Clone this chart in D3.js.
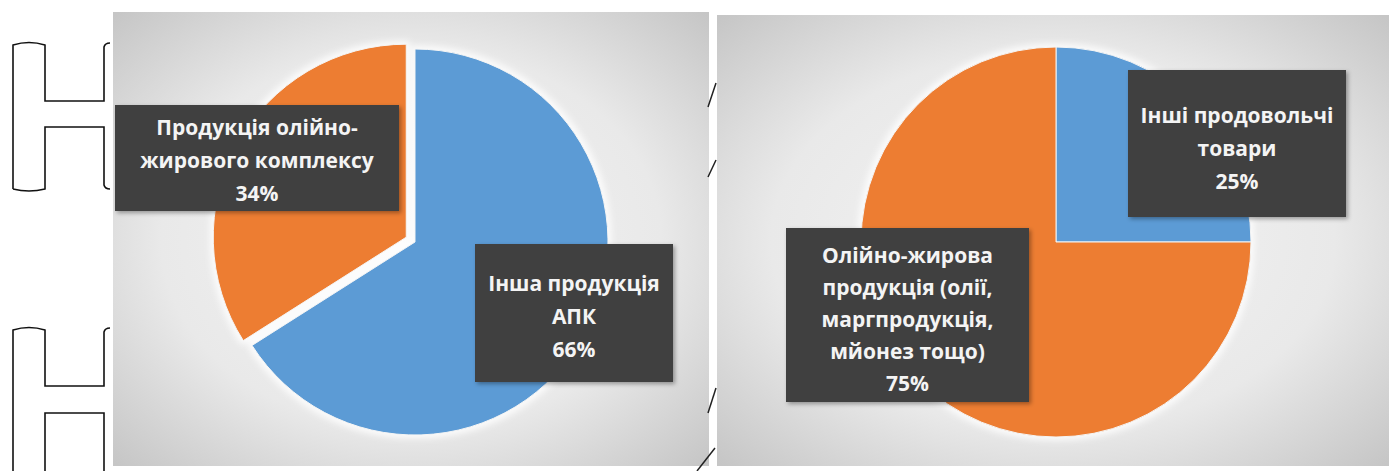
<!DOCTYPE html>
<html>
<head>
<meta charset="utf-8">
<script src="https://cdn.jsdelivr.net/npm/d3@7"></script>
<style>
  body { margin: 0; background: #fff; }
  svg { display: block; }
</style>
</head>
<body>
<div id="chart"></div>
<script>
// left pie: share of oil-and-fat complex in agro exports
const leftCategories = ['Інша продукція АПК', 'Продукція олійно-жирового комплексу'];
const leftValues = [66, 34];
const leftLabelLines = [
    ['Інша продукція', 'АПК', '66%'],
    ['Продукція олійно-', 'жирового комплексу', '34%']
];

// right pie: share in food exports
const rightCategories = ['Інші продовольчі товари', 'Олійно-жирова продукція'];
const rightValues = [25, 75];
const rightLabelLines = [
    ['Інші продовольчі', 'товари', '25%'],
    ['Олійно-жирова', 'продукція (олії,', 'маргпродукція,', 'мйонез тощо)', '75%']
];

const colors = ['#5b9bd5', '#ed7d31'];

const W = 1389, H = 471;

const svg = d3.select('#chart')
    .append('svg')
    .attr('width', W)
    .attr('height', H);

const defs = svg.append('defs');

const grad = defs.append('radialGradient')
    .attr('id', 'bg')
    .attr('cx', '50%').attr('cy', '50%').attr('r', '70%');
grad.append('stop').attr('offset', '0%').attr('stop-color', '#f4f4f4');
grad.append('stop').attr('offset', '60%').attr('stop-color', '#e9e9e9');
grad.append('stop').attr('offset', '100%').attr('stop-color', '#c6c6c6');

const shadow = defs.append('filter').attr('id', 'shadow')
    .attr('x', '-10%').attr('y', '-10%').attr('width', '125%').attr('height', '125%');
shadow.append('feDropShadow')
    .attr('dx', 2).attr('dy', 2).attr('stdDeviation', 2)
    .attr('flood-color', '#000').attr('flood-opacity', 0.35);

const glow = defs.append('filter').attr('id', 'glow')
    .attr('x', '-10%').attr('y', '-10%').attr('width', '120%').attr('height', '120%');
glow.append('feMorphology').attr('in', 'SourceAlpha').attr('operator', 'dilate').attr('radius', 3).attr('result', 'd');
glow.append('feGaussianBlur').attr('in', 'd').attr('stdDeviation', 3).attr('result', 'b');
glow.append('feFlood').attr('flood-color', '#ffffff').attr('flood-opacity', 0.8);
glow.append('feComposite').attr('in2', 'b').attr('operator', 'in').attr('result', 'g');
const gm = glow.append('feMerge');
gm.append('feMergeNode').attr('in', 'g');
gm.append('feMergeNode').attr('in', 'SourceGraphic');

function drawPie(opts) {
    const { x0, y0, x1, y1, cx, cy, r, values, lines, boxes, explode } = opts;

    svg.append('rect')
        .attr('x', x0).attr('y', y0)
        .attr('width', x1 - x0).attr('height', y1 - y0)
        .attr('fill', 'url(#bg)');

    const pie = d3.pie().sort(null).value(d => d);
    const arcs = pie(values);
    const arc = d3.arc().innerRadius(0).outerRadius(r);

    const g = svg.append('g')
        .attr('transform', `translate(${cx},${cy})`)
        .attr('filter', 'url(#glow)');

    g.selectAll('path')
        .data(arcs)
        .join('path')
        .attr('d', arc)
        .attr('fill', (d, i) => colors[i])
        .attr('stroke', '#f4f4f4')
        .attr('stroke-width', 1)
        .attr('transform', (d, i) => {
            const off = explode[i] || 0;
            const a = (d.startAngle + d.endAngle) / 2;
            return `translate(${off * Math.sin(a)},${-off * Math.cos(a)})`;
        });

    // data labels (boxes placed by hand, as in the original)
    lines.forEach((ls, i) => {
        const b = boxes[i];
        svg.append('rect')
            .attr('x', b.x).attr('y', b.y)
            .attr('width', b.w).attr('height', b.h)
            .attr('fill', '#404040')
            .attr('filter', 'url(#shadow)');
        const t = svg.append('text')
            .attr('text-anchor', 'middle')
            .attr('fill', '#f4f4f4')
            .style('font-family', '"Open Sans", sans-serif')
            .style('font-weight', 700)
            .style('font-size', '21px');
        ls.forEach((s, k) => {
            t.append('tspan')
                .attr('x', b.x + b.w / 2)
                .attr('y', b.ty + k * b.lh)
                .text(s);
        });
    });
}

drawPie({
    x0: 113, y0: 12, x1: 709, y1: 466,
    cx: 415, cy: 242, r: 193,
    values: leftValues,
    lines: leftLabelLines,
    explode: [0, 10],
    boxes: [
        { x: 475, y: 244, w: 198, h: 138, ty: 291, lh: 33 },
        { x: 115, y: 105, w: 284, h: 106, ty: 135, lh: 33 }
    ]
});

drawPie({
    x0: 717, y0: 15, x1: 1389, y1: 466,
    cx: 1056, cy: 242, r: 195,
    values: rightValues,
    lines: rightLabelLines,
    explode: [0, 0],
    boxes: [
        { x: 1128, y: 70, w: 218, h: 147, ty: 123, lh: 33 },
        { x: 786, y: 228, w: 243, h: 174, ty: 263, lh: 32 }
    ]
});

// scan leftovers: bracket outlines on the left edge
const deco = svg.append('g')
    .attr('fill', 'none')
    .attr('stroke', '#111')
    .attr('stroke-width', 1.6);

function bracket(top, bar1, bar2, bottom, closed) {
    let p = `M13,${bottom} L13,${top + 2} Q29,${top - 3} 45,${top + 2} L45,${bar1} L104,${bar1} L104,${top + 4} Q105,${top} 110,${top}`;
    p += ` M110,${bottom} Q105,${bottom} 104,${bottom - 4} L104,${bar2} L45,${bar2} L45,${bottom}`;
    if (closed) p += ` Q29,${bottom + 4} 13,${bottom}`;
    deco.append('path').attr('d', p);
}
bracket(43, 101, 127, 189, true);
bracket(328, 386, 413, 475, false);

// small slashes between the two panels
[[708, 107, 716, 83], [708, 177, 716, 160], [708, 413, 716, 388], [697, 471, 715, 448]].forEach(s => {
    svg.append('line')
        .attr('x1', s[0]).attr('y1', s[1]).attr('x2', s[2]).attr('y2', s[3])
        .attr('stroke', '#222').attr('stroke-width', 1.5);
});
</script>
</body>
</html>
